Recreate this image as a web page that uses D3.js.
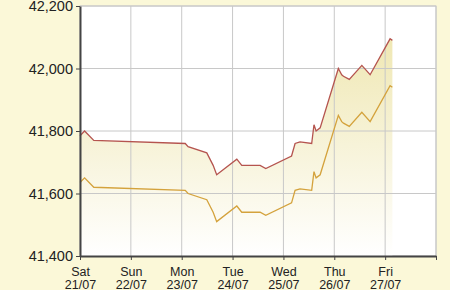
<!DOCTYPE html>
<html>
<head>
<meta charset="utf-8">
<script src="https://cdn.jsdelivr.net/npm/d3@7"></script>
<style>
  html, body { margin: 0; padding: 0; background: #fbf8d8; }
  #chart { width: 450px; height: 290px; }
  .axis text { font-family: "Liberation Sans", Arial, sans-serif; fill: #222; }
</style>
</head>
<body>
<div id="chart"></div>
<script>
// ── DATA ─────────────────────────────────────────────────────────────────────
const TIMES = [
  '2018-07-21 00:00', '2018-07-21 02:10', '2018-07-21 06:30', '2018-07-23 01:40',
  '2018-07-23 03:00', '2018-07-23 11:50', '2018-07-23 13:20', '2018-07-23 14:50',
  '2018-07-23 16:30', '2018-07-24 02:00', '2018-07-24 04:20', '2018-07-24 13:00',
  '2018-07-24 15:40', '2018-07-25 03:50', '2018-07-25 05:30', '2018-07-25 07:50',
  '2018-07-25 13:20', '2018-07-25 14:25', '2018-07-25 15:25', '2018-07-25 17:20',
  '2018-07-26 01:55', '2018-07-26 03:30', '2018-07-26 04:20', '2018-07-26 07:05',
  '2018-07-26 13:00', '2018-07-26 16:55', '2018-07-27 02:20', '2018-07-27 03:25'
];

const SELL = [
  41785, 41800, 41770, 41760, 41750, 41730, 41710, 41690, 41660, 41710,
  41690, 41690, 41680, 41720, 41760, 41765, 41760, 41820, 41800, 41810,
  42000, 41980, 41975, 41965, 42010, 41980, 42095, 42090
];

const BUY = [
  41635, 41650, 41620, 41610, 41600, 41580, 41560, 41540, 41510, 41560,
  41540, 41540, 41530, 41570, 41610, 41615, 41610, 41670, 41650, 41660,
  41850, 41830, 41825, 41815, 41860, 41830, 41945, 41940
];

const Y_TICKS    = [41400, 41600, 41800, 42000, 42200];
const X_TICKS    = ['2018-07-21', '2018-07-22', '2018-07-23', '2018-07-24',
                    '2018-07-25', '2018-07-26', '2018-07-27', '2018-07-28'];
const DAY_LABELS  = ['Sat', 'Sun', 'Mon', 'Tue', 'Wed', 'Thu', 'Fri', ''];
const DATE_LABELS = ['21/07', '22/07', '23/07', '24/07', '25/07', '26/07', '27/07', ''];

// ── DIMENSIONS ───────────────────────────────────────────────────────────────
const margin = { top: 6, right: 14, bottom: 34, left: 80 };
const W = 450, H = 290;
const width  = W - margin.left - margin.right;
const height = H - margin.top  - margin.bottom;

const parseTime = d3.timeParse('%Y-%m-%d %H:%M');
const parseDay  = d3.timeParse('%Y-%m-%d');

const points = TIMES.map((t, i) => ({ time: parseTime(t), sell: SELL[i], buy: BUY[i] }));
const xDays  = X_TICKS.map(parseDay);

// ── SVG ──────────────────────────────────────────────────────────────────────
const svg = d3.select('#chart').append('svg')
  .attr('width', W)
  .attr('height', H);

svg.append('rect')
  .attr('width', W).attr('height', H)
  .attr('fill', '#fbf8d8');

const g = svg.append('g')
  .attr('transform', `translate(${margin.left},${margin.top})`);

const grad = svg.append('defs').append('linearGradient')
  .attr('id', 'fill-grad')
  .attr('gradientUnits', 'userSpaceOnUse')
  .attr('x1', 0).attr('y1', 0)
  .attr('x2', 0).attr('y2', height);
grad.append('stop').attr('offset', '0%').attr('stop-color', '#ede4a8');
grad.append('stop').attr('offset', '100%').attr('stop-color', '#ffffff');

// ── SCALES ───────────────────────────────────────────────────────────────────
const x = d3.scaleTime()
  .domain([xDays[0], xDays[xDays.length - 1]])
  .range([0, width]);

const y = d3.scaleLinear()
  .domain([Y_TICKS[0], Y_TICKS[Y_TICKS.length - 1]])
  .range([height, 0]);

// plot background
g.append('rect')
  .attr('width', width).attr('height', height)
  .attr('fill', '#ffffff')
  .attr('stroke', '#c8c8c8');

// ── AREA ─────────────────────────────────────────────────────────────────────
const area = d3.area()
  .x(d => x(d.time))
  .y0(height)
  .y1(d => y(d.sell));

g.append('path')
  .datum(points)
  .attr('d', area)
  .attr('fill', 'url(#fill-grad)');

// ── GRID ─────────────────────────────────────────────────────────────────────
g.append('g')
  .selectAll('line.vgrid')
  .data(xDays.slice(1))
  .join('line')
    .attr('x1', d => x(d)).attr('x2', d => x(d))
    .attr('y1', 0).attr('y2', height)
    .attr('stroke', '#c8c8c8')
    .attr('stroke-width', 1);

g.append('g')
  .selectAll('line.hgrid')
  .data(Y_TICKS.slice(1))
  .join('line')
    .attr('x1', 0).attr('x2', width)
    .attr('y1', d => y(d)).attr('y2', d => y(d))
    .attr('stroke', '#c8c8c8')
    .attr('stroke-width', 1);

// ── LINES ────────────────────────────────────────────────────────────────────
const lineSell = d3.line().x(d => x(d.time)).y(d => y(d.sell));
const lineBuy  = d3.line().x(d => x(d.time)).y(d => y(d.buy));

g.append('path')
  .datum(points)
  .attr('d', lineBuy)
  .attr('fill', 'none')
  .attr('stroke', '#d4a23c')
  .attr('stroke-width', 1.3);

g.append('path')
  .datum(points)
  .attr('d', lineSell)
  .attr('fill', 'none')
  .attr('stroke', '#b5544f')
  .attr('stroke-width', 1.3);

// ── AXES ─────────────────────────────────────────────────────────────────────
const yAxisG = g.append('g')
  .attr('class', 'axis')
  .call(d3.axisLeft(y)
    .tickValues(Y_TICKS)
    .tickSize(4)
    .tickSizeOuter(0)
    .tickPadding(3)
    .tickFormat(d3.format(',')));

yAxisG.selectAll('text').style('font-size', '14.5px');

const xAxisG = g.append('g')
  .attr('class', 'axis')
  .attr('transform', `translate(0,${height})`)
  .call(d3.axisBottom(x)
    .tickValues(xDays)
    .tickSize(4)
    .tickSizeOuter(0)
    .tickFormat(''));

xAxisG.selectAll('.tick').each(function(d, i) {
  const t = d3.select(this).select('text')
    .attr('y', 0)
    .attr('dy', null)
    .style('font-size', '12.5px')
    .attr('text-anchor', 'middle');
  t.append('tspan').attr('x', 0).attr('y', 20).text(DAY_LABELS[i]);
  t.append('tspan').attr('x', 0).attr('y', 32.5).text(DATE_LABELS[i]);
});

[yAxisG, xAxisG].forEach(a => {
  a.select('.domain').attr('stroke', '#444').attr('stroke-width', 2);
  a.selectAll('.tick line').attr('stroke', '#444');
});
</script>
</body>
</html>
